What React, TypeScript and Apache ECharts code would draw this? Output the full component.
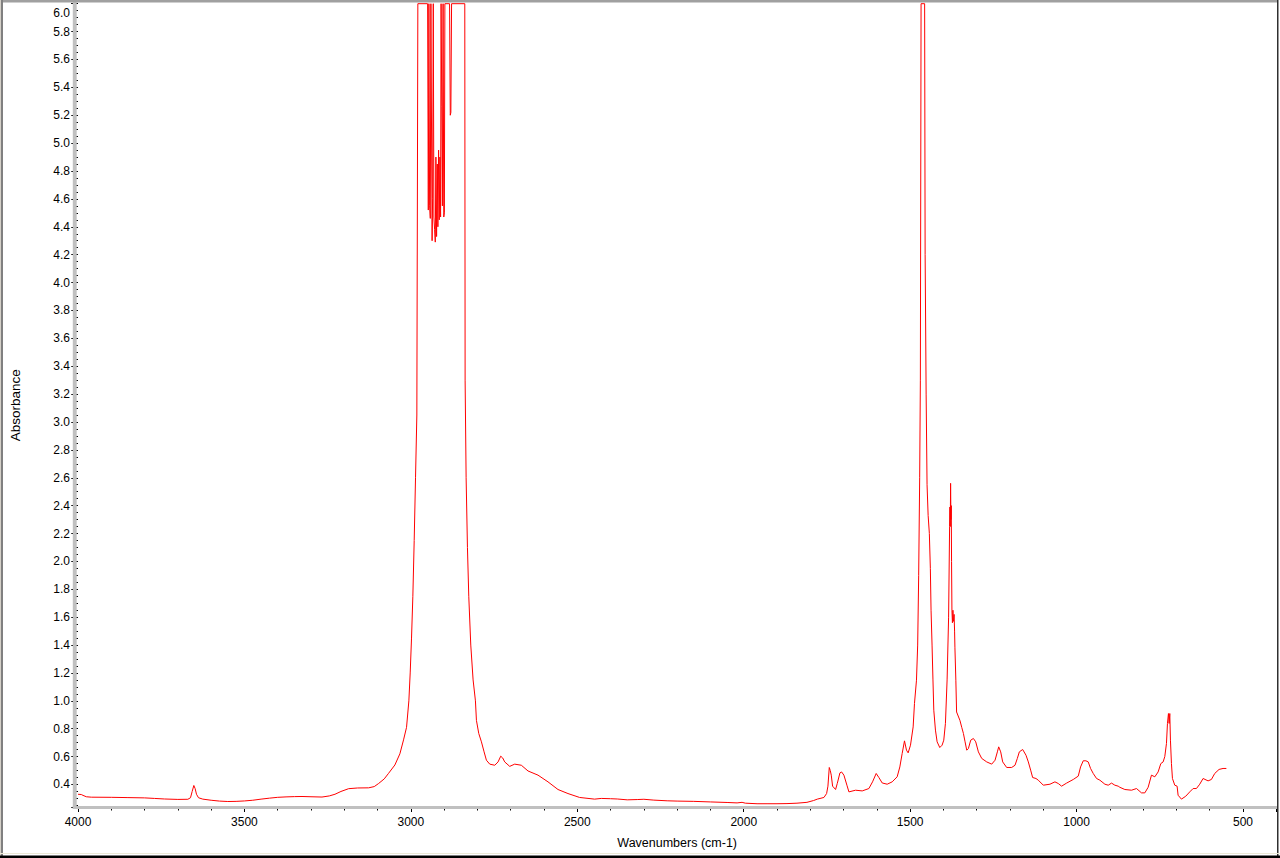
import React, { useEffect, useRef } from 'react';
import * as echarts from 'echarts';

// Wavenumbers (cm-1), high to low
const WAVENUMBERS = [
  4000, 3990, 3985, 3975, 3960, 3900, 3850, 3800, 3770, 3740, 3700, 3670, 3662, 3657, 3652, 3648, 3644, 3638, 3625, 3600,
  3575, 3550, 3525, 3500, 3475, 3450, 3425, 3400, 3375, 3350, 3327, 3300, 3267, 3245, 3228, 3210, 3187, 3160, 3127, 3110,
  3097, 3080, 3067, 3048, 3033, 3022, 3013, 3006, 3002, 2998, 2994, 2990, 2986, 2982, 2979,
  2949.7, 2947.6, 2945.8, 2943.7, 2941.6, 2939.8, 2937.7, 2936.2, 2934.7, 2932.6, 2930.8, 2928.7, 2926.6, 2924.8, 2922.7,
  2920.6, 2918.8, 2916.7, 2914.6, 2912.8, 2910.7, 2909.2, 2907.1, 2905.3, 2903.2, 2901.1, 2899.3, 2897.8, 2883.7, 2881.6,
  2879.8, 2877.7, 2838, 2837, 2834, 2830, 2826, 2820, 2813, 2806, 2803, 2796, 2788, 2780, 2773, 2763, 2748, 2738, 2730,
  2724, 2718, 2703, 2688, 2668, 2648, 2618, 2588, 2558, 2528, 2493, 2448, 2428, 2400, 2380, 2350, 2320, 2300, 2270, 2230,
  2200, 2150, 2100, 2050, 2020, 2005, 1995, 1960, 1930, 1900, 1870, 1840, 1810, 1790, 1779, 1759, 1751, 1747, 1743, 1740,
  1737, 1733, 1724, 1719, 1711, 1706, 1699, 1690, 1684, 1664, 1644, 1624, 1613, 1602, 1594, 1584, 1569, 1554, 1539, 1531,
  1524, 1517, 1511, 1506, 1499, 1491, 1487, 1481, 1477.4, 1474.4, 1471.4, 1469.3, 1467.2, 1456.5, 1455, 1452, 1449.2,
  1446, 1442.3, 1439.3, 1437.2, 1434.2, 1431.5, 1429, 1424, 1419, 1411, 1404, 1399, 1394, 1389, 1384.5, 1381.5, 1380.5,
  1379.5, 1378.5, 1377.5, 1376.5, 1375.6, 1374.5, 1373, 1371.5, 1370, 1368, 1366.5, 1365.5, 1362.7, 1360.5, 1350.5, 1345,
  1340, 1335, 1330, 1325, 1318, 1310, 1303, 1295, 1285, 1270, 1255, 1245, 1238, 1234, 1228, 1222, 1210, 1195, 1185, 1178,
  1172, 1162, 1152, 1145, 1138, 1132, 1122, 1115, 1100, 1080, 1065, 1055, 1045, 1030, 1010, 995, 988, 980, 972, 965, 958,
  950, 940, 930, 915, 905, 895, 885, 875, 870, 855, 835, 820, 805, 795, 785, 775, 765, 755, 747, 740, 735, 730, 727, 724,
  722, 720, 718, 715, 712, 705, 698, 695, 685, 672, 660, 650, 640, 630, 620, 605, 595, 585, 572, 560, 550,
];

// Absorbance at each wavenumber
const ABSORBANCE = [
  0.33, 0.328, 0.322, 0.312, 0.309, 0.308, 0.306, 0.304, 0.3, 0.296, 0.293, 0.294, 0.305, 0.35, 0.393, 0.37, 0.33, 0.305, 0.295, 0.287,
  0.281, 0.278, 0.279, 0.282, 0.287, 0.295, 0.302, 0.308, 0.311, 0.313, 0.314, 0.312, 0.31, 0.318, 0.33, 0.35, 0.37, 0.375, 0.376, 0.385,
  0.407, 0.44, 0.48, 0.54, 0.62, 0.72, 0.81, 1.0, 1.2, 1.45, 1.75, 2.15, 2.6, 3.05, 6.0,
  6.0, 4.52, 6.0, 4.55, 4.46, 6.0, 6.0, 4.3, 4.6, 6.0, 4.47, 4.38, 4.29, 4.9, 4.33,
  4.85, 4.4, 4.95, 4.45, 4.9, 4.47, 6.0, 5.26, 4.55, 6.0, 4.47, 4.5, 6.0, 6.0, 5.2,
  5.22, 6.0, 6.0, 3.3, 2.6, 2.1, 1.75, 1.4, 1.15, 1.0, 0.86, 0.766, 0.706, 0.634, 0.574, 0.546, 0.538, 0.562, 0.603,
  0.59, 0.562, 0.53, 0.546, 0.538, 0.497, 0.467, 0.419, 0.364, 0.335, 0.307, 0.295, 0.3, 0.298, 0.296, 0.29, 0.292, 0.294, 0.288, 0.283,
  0.281, 0.279, 0.275, 0.271, 0.268, 0.272, 0.266, 0.262, 0.262, 0.262, 0.263, 0.266, 0.272, 0.285, 0.295, 0.307, 0.335, 0.388, 0.522, 0.5,
  0.467, 0.388, 0.364, 0.407, 0.483, 0.49, 0.467, 0.395, 0.347, 0.359, 0.354, 0.371, 0.419, 0.479, 0.45, 0.411, 0.402, 0.419, 0.455, 0.526,
  0.622, 0.713, 0.646, 0.627, 0.682, 0.813, 0.981, 1.148, 1.4, 1.9, 2.6, 3.3, 6.0, 6.0, 4.2, 3.2, 2.55,
  2.33, 2.2, 1.95, 1.65, 1.4, 1.15, 0.933, 0.79, 0.706, 0.665, 0.682, 0.718, 0.838, 1.15, 1.6, 2.25, 2.39,
  2.25, 2.56, 2.3, 2.4, 2.0, 1.65, 1.56, 1.65, 1.57, 1.62, 1.5, 1.38, 1.148, 0.92, 0.86, 0.81,
  0.766, 0.706, 0.646, 0.658, 0.718, 0.73, 0.706, 0.634, 0.587, 0.562, 0.546, 0.574, 0.634, 0.67, 0.634, 0.562, 0.522, 0.522, 0.538, 0.587,
  0.634, 0.651, 0.61, 0.562, 0.503, 0.45, 0.443, 0.431, 0.395, 0.402, 0.419, 0.407, 0.388, 0.41, 0.436, 0.46, 0.526, 0.57, 0.57, 0.562, 0.515,
  0.479, 0.443, 0.431, 0.402, 0.395, 0.41, 0.395, 0.388, 0.38, 0.364, 0.359, 0.371, 0.34, 0.34, 0.38, 0.467, 0.455, 0.49, 0.55, 0.562, 0.6, 0.694, 0.838, 0.909,
  0.838, 0.909, 0.718, 0.55, 0.443, 0.395, 0.388, 0.323, 0.295, 0.316, 0.347, 0.371, 0.371, 0.402, 0.443, 0.426, 0.436, 0.479, 0.508, 0.515, 0.515,
];

const X_MIN = 400;
const X_MAX = 4000;
const X_LABEL_STEP = 500;
const Y_MIN = 0.235;
const Y_MAX = 6.005;
const Y_LABEL_STEP = 0.2;

const FONT = '"Liberation Sans", Arial, sans-serif';

export default function App() {
  const ref = useRef<HTMLDivElement>(null);

  useEffect(() => {
    document.body.style.margin = '0';
    const chart = echarts.init(ref.current as HTMLDivElement, null, { renderer: 'svg' });
    const data = WAVENUMBERS.map((w, i) => [w, ABSORBANCE[i]]);

    chart.setOption({
      animation: false,
      backgroundColor: '#ffffff',
      grid: { left: 75, right: 3.7, top: 3, bottom: 50.5, containLabel: false },
      xAxis: {
        type: 'value',
        inverse: true,
        min: X_MIN,
        max: X_MAX,
        splitNumber: 7,
        name: 'Wavenumbers (cm-1)',
        nameLocation: 'middle',
        nameGap: 29,
        nameTextStyle: { color: '#000', fontSize: 12.5, fontFamily: FONT },
        axisLine: { show: false },
        axisTick: { show: true, length: 4.5, lineStyle: { color: '#000', width: 1 } },
        minorTick: { show: true, splitNumber: 5, length: 3, lineStyle: { color: '#000', width: 1 } },
        splitLine: { show: false },
        minorSplitLine: { show: false },
        axisLabel: {
          color: '#000',
          fontSize: 12,
          fontFamily: FONT,
          margin: 8,
          formatter: (v: number) => (Math.abs(v % X_LABEL_STEP) < 1e-6 ? String(v) : ''),
        },
      },
      yAxis: {
        type: 'value',
        min: Y_MIN,
        max: Y_MAX,
        splitNumber: 29,
        name: 'Absorbance',
        nameLocation: 'middle',
        nameGap: 56,
        nameTextStyle: { color: '#000', fontSize: 13.5, fontFamily: FONT },
        axisLine: { show: false },
        axisTick: { show: true, length: 6.7, lineStyle: { color: '#000', width: 1 } },
        minorTick: { show: true, splitNumber: 4, length: 4.3, lineStyle: { color: '#000', width: 1 } },
        splitLine: { show: false },
        minorSplitLine: { show: false },
        axisLabel: {
          color: '#000',
          fontSize: 12,
          fontFamily: FONT,
          margin: 8,
          formatter: (v: number) => {
            const k = v / Y_LABEL_STEP;
            if (Math.abs(k - Math.round(k)) > 1e-6) return '';
            const s = v.toFixed(1);
            return v > Y_MAX - Y_LABEL_STEP / 2 ? '{t|' + s + '}' : s;
          },
          rich: {
            t: { color: '#000', fontSize: 12, fontFamily: FONT, padding: [18, 0, 0, 0] },
          },
        },
      },
      series: [
        {
          type: 'line',
          data,
          showSymbol: false,
          symbol: 'none',
          clip: true,
          silent: true,
          lineStyle: { color: '#ff0000', width: 1 },
        },
      ],
      graphic: [
        { type: 'rect', z: 100, silent: true, shape: { x: 72.8, y: 0, width: 3.9, height: 809 }, style: { fill: '#c0c0c0' } },
        { type: 'rect', z: 100, silent: true, shape: { x: 72.8, y: 806, width: 1204.5, height: 3 }, style: { fill: '#c0c0c0' } },
        { type: 'rect', z: 101, silent: true, shape: { x: 0, y: 0, width: 1278, height: 2.5 }, style: { fill: '#a0a0a0' } },
        { type: 'rect', z: 101, silent: true, shape: { x: 0, y: 0, width: 1, height: 858 }, style: { fill: '#d4d0c8' } },
        { type: 'rect', z: 101, silent: true, shape: { x: 1, y: 0, width: 2, height: 858 }, style: { fill: '#808080' } },
        { type: 'rect', z: 101, silent: true, shape: { x: 1277, y: 0, width: 1.5, height: 858 }, style: { fill: '#303030' } },
        { type: 'rect', z: 101, silent: true, shape: { x: 0, y: 853, width: 1280, height: 1 }, style: { fill: '#ece9d8' } },
        { type: 'rect', z: 101, silent: true, shape: { x: 0, y: 855.5, width: 1280, height: 2.5 }, style: { fill: '#000000' } },
      ],
    });

    return () => chart.dispose();
  }, []);

  return (
    <div
      ref={ref}
      style={{ position: 'absolute', left: 0, top: 0, width: 1280, height: 858, background: '#fff' }}
    />
  );
}
